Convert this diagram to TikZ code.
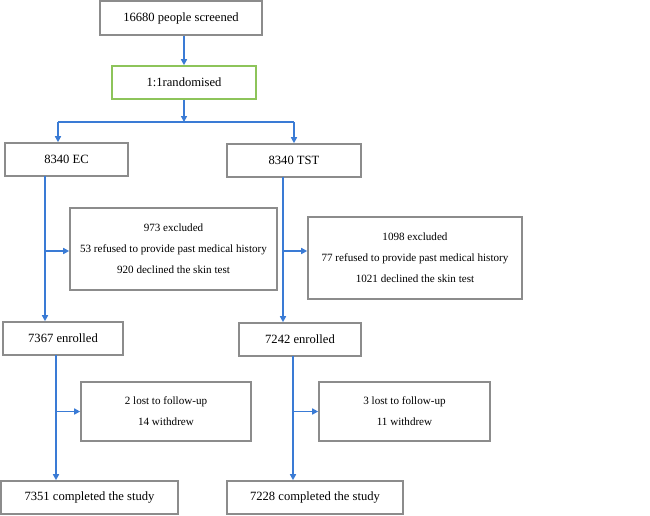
\documentclass[tikz,border=0pt]{standalone}
\usepackage{fontspec}
\setmainfont{Liberation Serif}
\usetikzlibrary{arrows.meta}
\definecolor{boxgray}{HTML}{8C8C8C}
\definecolor{linkblue}{HTML}{3A7BD5}
\definecolor{randgreen}{HTML}{8DC45A}
\tikzset{
  box/.style={draw=boxgray, line width=1.6pt, fill=white, inner sep=0pt,
    align=center, font=\fontsize{12.6pt}{15pt}\selectfont},
  sidebox/.style={box, font=\fontsize{11.1pt}{21pt}\selectfont},
  link/.style={draw=linkblue, line width=1.5pt},
  arr/.style={link, -{Triangle[length=6pt,width=6pt]}}
}
\begin{document}
\begin{tikzpicture}[x=1pt,y=-1pt]
\useasboundingbox (0,0) rectangle (650,515);
% nodes (centres in pixel units, y downwards)
\node[box, minimum width=162pt, minimum height=34pt] (scr) at (181,18) {16680 people screened};
\node[box, draw=randgreen, minimum width=144pt, minimum height=33pt] (rand) at (184,82.5) {1:1randomised};
\node[box, minimum width=123pt, minimum height=33pt] (ec) at (66.5,159.5) {8340 EC};
\node[box, minimum width=134pt, minimum height=33pt] (tst) at (294,160.5) {8340 TST};
\node[sidebox, minimum width=207pt, minimum height=82pt] (ex1) at (173.5,249) {973 excluded\\53 refused to provide past medical history\\920 declined the skin test};
\node[sidebox, minimum width=214pt, minimum height=82pt] (ex2) at (415,258) {1098 excluded\\77 refused to provide past medical history\\1021 declined the skin test};
\node[box, minimum width=120pt, minimum height=33pt] (en1) at (63,338.5) {7367 enrolled};
\node[box, minimum width=122pt, minimum height=33pt] (en2) at (300,339.5) {7242 enrolled};
\node[sidebox, minimum width=170pt, minimum height=59pt] (fu1) at (166,411.5) {2 lost to follow-up\\14 withdrew};
\node[sidebox, minimum width=171pt, minimum height=59pt] (fu2) at (404.5,411.5) {3 lost to follow-up\\11 withdrew};
\node[box, minimum width=177pt, minimum height=33pt] (co1) at (89.5,497.5) {7351 completed the study};
\node[box, minimum width=176pt, minimum height=33pt] (co2) at (315,497.5) {7228 completed the study};
% coordinates
\coordinate (sp) at (184,122);
\coordinate (spL) at (58,122);
\coordinate (spR) at (294,122);
\coordinate (ecOut) at (45,176);
\coordinate (tstOut) at (283,177);
\coordinate (b1) at (45,251);
\coordinate (b2) at (283,251);
\coordinate (en1Out) at (56,355);
\coordinate (en2Out) at (293,356);
\coordinate (c1) at (56,411.5);
\coordinate (c2) at (293,411.5);
% connectors
\draw[arr] (scr.south -| rand.north) -- (rand.north);
\draw[arr] (rand.south) -- (sp);
\draw[link] (spL) -- (spR);
\draw[arr] (spL) -- (spL |- ec.north);
\draw[arr] (spR) -- (spR |- tst.north);
\draw[arr] (ecOut) -- (ecOut |- en1.north);
\draw[arr] (b1) -- (b1 -| ex1.west);
\draw[arr] (tstOut) -- (tstOut |- en2.north);
\draw[arr] (b2) -- (b2 -| ex2.west);
\draw[arr] (en1Out) -- (en1Out |- co1.north);
\draw[arr] (c1) -- (c1 -| fu1.west);
\draw[arr] (en2Out) -- (en2Out |- co2.north);
\draw[arr] (c2) -- (c2 -| fu2.west);
\end{tikzpicture}
\end{document}
